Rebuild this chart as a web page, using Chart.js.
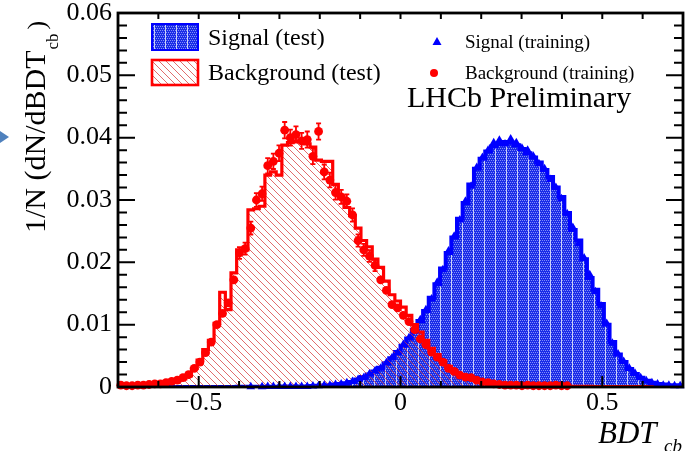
<!DOCTYPE html>
<html>
<head>
<meta charset="utf-8">
<script src="https://cdn.jsdelivr.net/npm/chart.js@4.4.0/dist/chart.umd.min.js"></script>
<style>
  html, body { margin: 0; padding: 0; background: #fff; }
  #bdtChart { display: block; }
</style>
</head>
<body>
<canvas id="bdtChart" width="697" height="451"></canvas>
<script>
// binning of the BDT_cb histograms
const xMin = -0.7, xMax = 0.7, nBins = 100;

// normalised bin contents, one value per bin
const sigTest = [
  0, 0, 0, 0, 0, 0, 0, 0, 0, 0,
  0.00002, 0.00002, 0.00002, 0.00002, 0.00002, 0.00002, 0.00002, 0.00002, 0.00002, 0.00002,
  0.00002, 0.00005, 0.00005, 0.00005, 0.00005, 0.00005, 0.00005, 0.00005, 0.00005, 0.0001,
  0.0001, 0.0001, 0.0001, 0.0001, 0.00015, 0.0002, 0.00025, 0.0003, 0.0004, 0.0005,
  0.0006, 0.0008, 0.0012, 0.0016, 0.0020, 0.0025, 0.0031, 0.0038, 0.0046, 0.0056,
  0.0066, 0.0078, 0.0092, 0.0106, 0.0122, 0.0143, 0.0165, 0.0190, 0.0215, 0.0240,
  0.0270, 0.0295, 0.0325, 0.0350, 0.0366, 0.0378, 0.0386, 0.0390, 0.0393, 0.0392,
  0.0388, 0.0382, 0.0375, 0.0368, 0.0360, 0.0348, 0.0337, 0.0320, 0.0305, 0.0279,
  0.0252, 0.0235, 0.0205, 0.0175, 0.0156, 0.0133, 0.0100, 0.0072, 0.0052, 0.0040,
  0.0029, 0.0021, 0.0015, 0.0010, 0.0007, 0.0005, 0.0004, 0.0003, 0.0003, 0.0002
];
const bkgTest = [
  0.0002, 0.0002, 0.0003, 0.0003, 0.0003, 0.0004, 0.0004, 0.0005, 0.0006, 0.0008,
  0.0010, 0.0013, 0.0018, 0.0030, 0.0043, 0.0060, 0.0075, 0.0102, 0.0152, 0.0124,
  0.0183, 0.0220, 0.0220, 0.0284, 0.0286, 0.0290, 0.0340, 0.0345, 0.0340, 0.0388,
  0.0392, 0.0395, 0.0394, 0.0390, 0.0385, 0.0364, 0.0362, 0.0362, 0.0325, 0.0305,
  0.0288, 0.0275, 0.0255, 0.0235, 0.0225, 0.0205, 0.0192, 0.0170, 0.0148, 0.0138,
  0.0128, 0.0115, 0.0100, 0.0088, 0.0075, 0.0062, 0.0052, 0.0042, 0.0033, 0.0026,
  0.0020, 0.0016, 0.0012, 0.0010, 0.0008, 0.0006, 0.0005, 0.0004, 0.0004, 0.0003,
  0.0003, 0.0003, 0.0002, 0.0002, 0.0002, 0.0002, 0.0001, 0.0001, 0.0001, 0.0001,
  0.0001, 0.0001, 0.0001, 0.0001, 0.00005, 0.00005, 0.00005, 0.00005, 0.00005, 0.00005,
  0.00005, 0.00005, 0.00005, 0.00005, 0.00005, 0, 0, 0, 0, 0
];
const sigTrain = [
  null, null, null, null, null, null, null, null, null, null,
  null, null, null, null, null, null, null, null, null, null,
  null, null, null, 0.00005, null, 0.00005, 0.00008, 0.00008, 0.00008, 0.0001,
  0.0001, 0.0001, 0.0001, 0.0001, 0.00015, 0.0002, 0.0003, 0.0003, 0.0004, 0.0005,
  0.0007, 0.0009, 0.0012, 0.0015, 0.0021, 0.0026, 0.0030, 0.0039, 0.0047, 0.0055,
  0.0068, 0.0079, 0.0090, 0.0108, 0.0124, 0.0141, 0.0168, 0.0188, 0.0218, 0.0242,
  0.0268, 0.0298, 0.0322, 0.0352, 0.0368, 0.0380, 0.0392, 0.0396, 0.0390, 0.0398,
  0.0392, 0.0383, 0.0380, 0.0370, 0.0358, 0.0350, 0.0333, 0.0320, 0.0302, 0.0278,
  0.0256, 0.0230, 0.0207, 0.0180, 0.0153, 0.0130, 0.0102, 0.0070, 0.0053, 0.0041,
  0.0030, 0.0022, 0.0015, 0.0010, 0.0007, 0.0005, 0.0003, 0.0003, 0.0002, 0.0002
];
const bkgTrain = [
  0.0003, 0.0002, 0.0002, 0.0003, 0.0003, 0.0004, 0.0005, 0.0005, 0.0007, 0.0009,
  0.0011, 0.0015, 0.0020, 0.0030, 0.0040, 0.0055, 0.0072, 0.0100, 0.0118, 0.0135,
  0.0172, 0.0215, 0.0222, 0.0255, 0.0300, 0.0310, 0.0355, 0.0362, 0.0375, 0.0412,
  0.0400, 0.0405, 0.0395, 0.0397, 0.0370, 0.0410, 0.0345, 0.0332, 0.0312, 0.0305,
  0.0298, 0.0276, 0.0235, 0.0220, 0.0210, 0.0195, 0.0172, 0.0155, 0.0132, 0.0127,
  0.0115, 0.0105, 0.0092, 0.0077, 0.0068, 0.0056, 0.0048, 0.0040, 0.0030, 0.0025,
  0.0019, 0.0016, 0.0015, 0.0011, 0.0008, 0.0007, 0.0005, 0.0004, 0.0003, 0.0003,
  0.0003, 0.0002, 0.0003, 0.0002, 0.0002, 0.0002, 0.0002, 0.0003, 0.0002, 0.0002,
  null, null, null, null, null, null, null, null, null, null,
  null, null, null, null, null, null, null, null, null, null
];
const bkgTrainEntries = 24000; // sets the size of the sqrt(N) error bars

// axis ticks
const xTickValues = [-0.5, 0, 0.5];
const xTickLabels = ['\u22120.5', '0', '0.5'];
const yTickValues = [0, 0.01, 0.02, 0.03, 0.04, 0.05, 0.06];
const yTickLabels = ['0', '0.01', '0.02', '0.03', '0.04', '0.05', '0.06'];

const serif = '"Liberation Serif", "Times New Roman", serif';
const binW = (xMax - xMin) / nBins;

function histPoints(vals) {
  const pts = vals.map((v, i) => ({ x: xMin + i * binW, y: v }));
  pts.push({ x: xMax, y: vals[vals.length - 1] });
  return pts;
}
function centerPoints(vals) {
  return vals.map((v, i) => v === null ? null : { x: xMin + (i + 0.5) * binW, y: v }).filter(p => p);
}
function labelFor(values, labels, v) {
  const i = values.findIndex(t => Math.abs(t - v) < 1e-9);
  return i < 0 ? '' : labels[i];
}

function makeSignalPattern() {
  const c = document.createElement('canvas');
  c.width = 11; c.height = 4;
  const g = c.getContext('2d');
  g.fillStyle = '#1a2ce8';
  g.fillRect(0, 0, 11, 4);
  g.fillStyle = 'rgba(150,160,250,0.85)';
  for (let x = 1; x < 11; x += 2) g.fillRect(x, 0, 1, 1);
  for (let x = 2; x < 11; x += 2) g.fillRect(x, 2, 1, 1);
  g.fillStyle = 'rgba(220,224,250,0.9)';
  g.fillRect(0, 0, 1, 4);
  return g.createPattern(c, 'repeat');
}
function makeHatchPattern() {
  const s = 7;
  const c = document.createElement('canvas');
  c.width = s; c.height = s;
  const g = c.getContext('2d');
  g.strokeStyle = 'rgba(215,60,60,0.75)';
  g.lineWidth = 1;
  g.beginPath();
  g.moveTo(-1, -1); g.lineTo(s + 1, s + 1);
  g.moveTo(-1, s - 1); g.lineTo(1, s + 1);
  g.moveTo(s - 1, -1); g.lineTo(s + 1, 1);
  g.stroke();
  return g.createPattern(c, 'repeat');
}

const ctx = document.getElementById('bdtChart').getContext('2d');
const sigPattern = makeSignalPattern();
const bkgPattern = makeHatchPattern();

// ROOT-like frame, inward ticks, titles and legend
const rootStyle = {
  id: 'rootStyle',
  afterDatasetsDraw(chart) {
    const c = chart.ctx, ys = chart.scales.y, xs = chart.scales.x;
    c.save();
    c.strokeStyle = '#ff0000';
    c.lineWidth = 1.8;
    bkgTrain.forEach((v, i) => {
      if (v === null) return;
      const e = Math.sqrt(v / bkgTrainEntries);
      const px = xs.getPixelForValue(xMin + (i + 0.5) * binW);
      const y1 = ys.getPixelForValue(v + e), y0 = ys.getPixelForValue(Math.max(0, v - e));
      if (y0 - y1 < 11) return;
      c.beginPath();
      c.moveTo(px, y0); c.lineTo(px, y1);
      c.moveTo(px - 2.5, y1); c.lineTo(px + 2.5, y1);
      c.moveTo(px - 2.5, y0); c.lineTo(px + 2.5, y0);
      c.stroke();
    });
    c.restore();
  },
  afterDraw(chart) {
    const c = chart.ctx, a = chart.chartArea;
    const xs = chart.scales.x, ys = chart.scales.y;
    c.save();
    // ticks
    c.strokeStyle = '#000';
    c.lineWidth = 2;
    c.beginPath();
    xs.ticks.forEach(t => {
      const px = xs.getPixelForValue(t.value);
      const major = labelFor(xTickValues, xTickLabels, t.value) !== '';
      c.moveTo(px, a.bottom); c.lineTo(px, a.bottom - (major ? 11 : 6));
      c.moveTo(px, a.top); c.lineTo(px, a.top + 6);
    });
    ys.ticks.forEach(t => {
      const py = ys.getPixelForValue(t.value);
      const len = labelFor(yTickValues, yTickLabels, t.value) !== '' ? 17 : 9;
      c.moveTo(a.left, py); c.lineTo(a.left + len, py);
      c.moveTo(a.right, py); c.lineTo(a.right - len, py);
    });
    c.stroke();
    // frame
    c.lineWidth = 2.8;
    c.strokeRect(a.left, a.top, a.right - a.left, a.bottom - a.top);

    // y title
    c.fillStyle = '#000';
    c.textBaseline = 'alphabetic';
    c.save();
    c.translate(45, 233);
    c.rotate(-Math.PI / 2);
    c.font = '30px ' + serif;
    const main = '1/N (dN/dBDT';
    c.fillText(main, 0, 0);
    const w = c.measureText(main).width;
    c.font = '17px ' + serif;
    c.fillText('cb', w + 1, 13);
    const wcb = c.measureText('cb').width;
    c.font = '26px ' + serif;
    c.fillText(')', w + wcb + 5, 0);
    c.restore();

    // x title
    c.font = 'italic 31px ' + serif;
    c.fillText('BDT', 598, 443);
    c.font = 'italic 19px ' + serif;
    c.fillText('cb', 664, 452);

    // LHCb label
    c.font = '30px ' + serif;
    c.fillText('LHCb Preliminary', 407, 107);

    // legend, left column
    const ds = chart.data.datasets;
    c.fillStyle = sigPattern;
    c.fillRect(152, 24, 46, 26);
    c.strokeStyle = '#0000ff';
    c.lineWidth = 2;
    c.strokeRect(152, 24, 46, 26);
    c.fillStyle = '#fff';
    c.fillRect(152, 60, 46, 25);
    c.fillStyle = bkgPattern;
    c.fillRect(152, 60, 46, 25);
    c.strokeStyle = '#ff0000';
    c.lineWidth = 2.6;
    c.strokeRect(152, 60, 46, 25);
    c.fillStyle = '#000';
    c.font = '24px ' + serif;
    c.fillText(ds[3].label, 208, 45);
    c.fillText(ds[2].label, 208, 80);

    // legend, right column
    c.fillStyle = '#0000ff';
    c.beginPath();
    c.moveTo(437, 37); c.lineTo(441.5, 45); c.lineTo(432.5, 45); c.closePath();
    c.fill();
    c.fillStyle = '#ff0000';
    c.beginPath();
    c.arc(434, 73, 4, 0, Math.PI * 2);
    c.fill();
    c.fillStyle = '#000';
    c.font = '19px ' + serif;
    c.fillText(ds[1].label, 465, 48);
    c.fillText(ds[0].label, 465, 79);

    // slide arrow fragment at the left edge
    c.fillStyle = '#4f81bd';
    c.beginPath();
    c.moveTo(0, 131); c.lineTo(9, 137); c.lineTo(0, 143); c.closePath();
    c.fill();
    c.restore();
  }
};

new Chart(ctx, {
  type: 'line',
  data: {
    datasets: [
      {
        label: 'Background (training)',
        data: centerPoints(bkgTrain),
        showLine: false,
        pointStyle: 'circle',
        pointRadius: 4.4,
        pointBorderWidth: 0,
        pointBackgroundColor: '#ff0000',
        clip: false,
        order: 0
      },
      {
        label: 'Signal (training)',
        data: centerPoints(sigTrain),
        showLine: false,
        pointStyle: 'triangle',
        pointRadius: 5,
        pointBorderWidth: 0,
        pointBackgroundColor: '#0000ff',
        clip: false,
        order: 1
      },
      {
        label: 'Background (test)',
        data: histPoints(bkgTest),
        stepped: true,
        fill: 'origin',
        backgroundColor: bkgPattern,
        borderColor: '#ff0000',
        borderWidth: 3.2,
        pointRadius: 0,
        order: 2
      },
      {
        label: 'Signal (test)',
        data: histPoints(sigTest),
        stepped: true,
        fill: 'origin',
        backgroundColor: sigPattern,
        borderColor: '#0000ff',
        borderWidth: 4,
        pointRadius: 0,
        order: 3
      }
    ]
  },
  options: {
    responsive: false,
    animation: false,
    events: [],
    layout: { padding: { top: 13, right: 14, left: 0, bottom: 0 } },
    plugins: {
      legend: { display: false },
      tooltip: { enabled: false }
    },
    scales: {
      x: {
        type: 'linear',
        min: xMin,
        max: xMax,
        grid: { display: false, drawTicks: false },
        border: { display: false },
        ticks: {
          stepSize: 0.1,
          autoSkip: false,
          maxRotation: 0,
          padding: 3,
          color: '#000',
          font: { family: serif, size: 26, lineHeight: 1 },
          callback: v => labelFor(xTickValues, xTickLabels, v)
        },
        afterFit: s => { s.height = 64; s.paddingLeft = 0; s.paddingRight = 0; }
      },
      y: {
        min: 0,
        max: 0.06,
        grid: { display: false, drawTicks: false },
        border: { display: false },
        ticks: {
          stepSize: 0.002,
          autoSkip: false,
          padding: 6,
          color: '#000',
          font: { family: serif, size: 26, lineHeight: 1 },
          callback: v => labelFor(yTickValues, yTickLabels, v)
        },
        afterFit: s => { s.width = 118; s.paddingTop = 0; s.paddingBottom = 0; }
      }
    }
  },
  plugins: [rootStyle]
});
</script>
</body>
</html>
